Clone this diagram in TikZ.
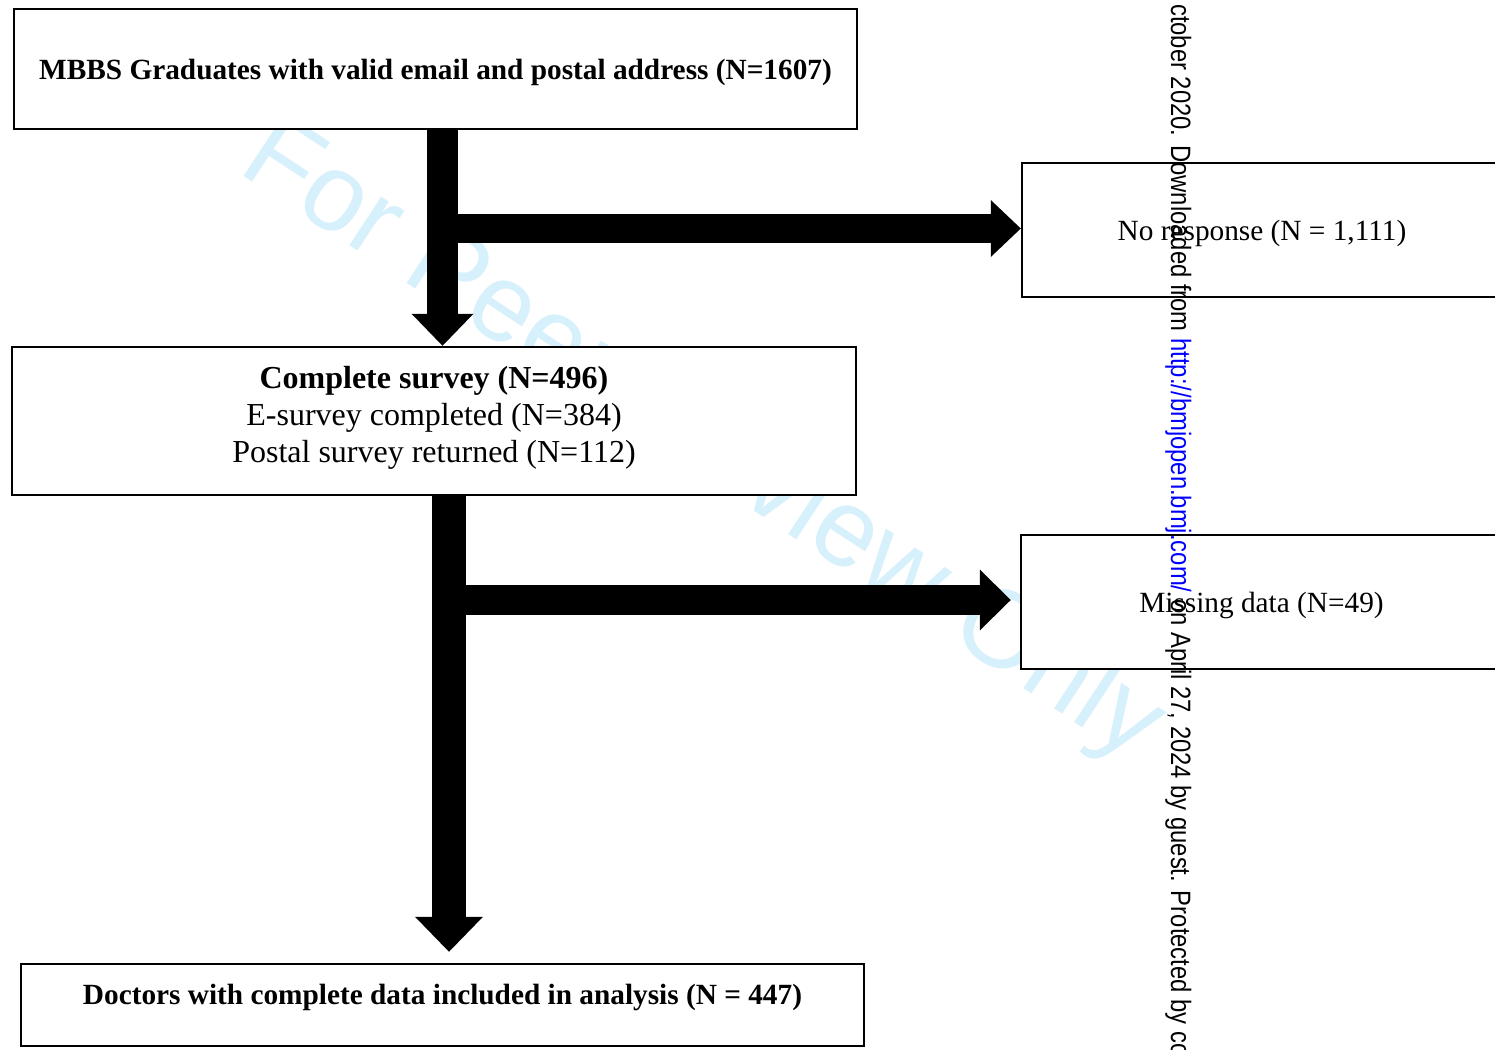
\documentclass[tikz,border=0pt]{standalone}
\usepackage{fontspec}
\setmainfont{Liberation Serif}
\newfontfamily\wmfont{Liberation Sans}
\usetikzlibrary{arrows.meta,calc}
\definecolor{wmblue}{RGB}{214,240,252}
\definecolor{urlblue}{RGB}{0,0,255}
\begin{document}
\begin{tikzpicture}[x=1pt,y=1pt,
  box/.style={draw,line width=2.5pt,fill=white,inner sep=0pt,align=center},
  boldtxt/.style={font=\bfseries\fontsize{29.3}{34}\selectfont},
  plaintxt/.style={font=\fontsize{29.3}{34}\selectfont},
  wmark/.style={text=wmblue,font=\wmfont\fontsize{110}{110}\selectfont,inner sep=0pt},
  sidetxt/.style={font=\wmfont\fontsize{28}{28}\selectfont,inner sep=0pt}]
\useasboundingbox (0,0) rectangle (1495,-1049);
\fill[white] (0,0) rectangle (1495,-1049);
% watermark
\node[wmark,anchor=base west,rotate=-33.3] (wm) at (236,-171) {For Peer Review Only};
% boxes
\node[box,boldtxt,minimum width=843pt,minimum height=120pt] (b1) at (435.5,-69)
  {\rule{0pt}{28pt}MBBS Graduates with valid email and postal address (N=1607)};
\node[box,font=\fontsize{32}{37}\selectfont,minimum width=844pt,minimum height=148pt] (b2) at (434,-421)
  {\textbf{Complete survey (N=496)}\\E-survey completed (N=384)\\Postal survey returned (N=112)\rule[-14pt]{0pt}{0pt}};
\node[box,plaintxt,minimum width=480pt,minimum height=134pt] (b3) at (1262,-230)
  {\rule{0pt}{28pt}No response (N = 1,111)};
\node[box,plaintxt,minimum width=481pt,minimum height=134pt] (b4) at (1261.5,-602)
  {\rule{0pt}{28pt}Missing data (N=49)};
\node[box,boldtxt,minimum width=843pt,minimum height=82pt] (b5) at (442.5,-1005)
  {Doctors with complete data included in analysis (N = 447)\rule[-21pt]{0pt}{0pt}};
% arrow guides
\coordinate (v1) at (442.5,0);
\coordinate (h1) at (0,-228.5);
\coordinate (v2) at (449,0);
\coordinate (h2) at (0,-600);
% arrows
\draw[line width=31pt,-{Triangle[width=62pt,length=32pt,line width=0pt]}] (b1.south -| v1) -- (b2.north -| v1);
\draw[line width=29pt,-{Triangle[width=57pt,length=30pt,line width=0pt]}] (h1 -| v1) -- (h1 -| b3.west);
\draw[line width=34pt,-{Triangle[width=68pt,length=35pt,line width=0pt]},shorten >=11pt] (b2.south -| v2) -- (b5.north -| v2);
\draw[line width=30pt,-{Triangle[width=61pt,length=31pt,line width=0pt]},shorten >=9pt] (h2 -| v2) -- (h2 -| b4.west);
% side text
\node[sidetxt,anchor=base west,rotate=-90] (side) at (1171,-4)
  {\scalebox{0.85}[1]{ctober 2020. Downloaded from \textcolor{urlblue}{http://bmjopen.bmj.com/} on April 27, 2024 by guest. Protected by co}};
\end{tikzpicture}
\end{document}
